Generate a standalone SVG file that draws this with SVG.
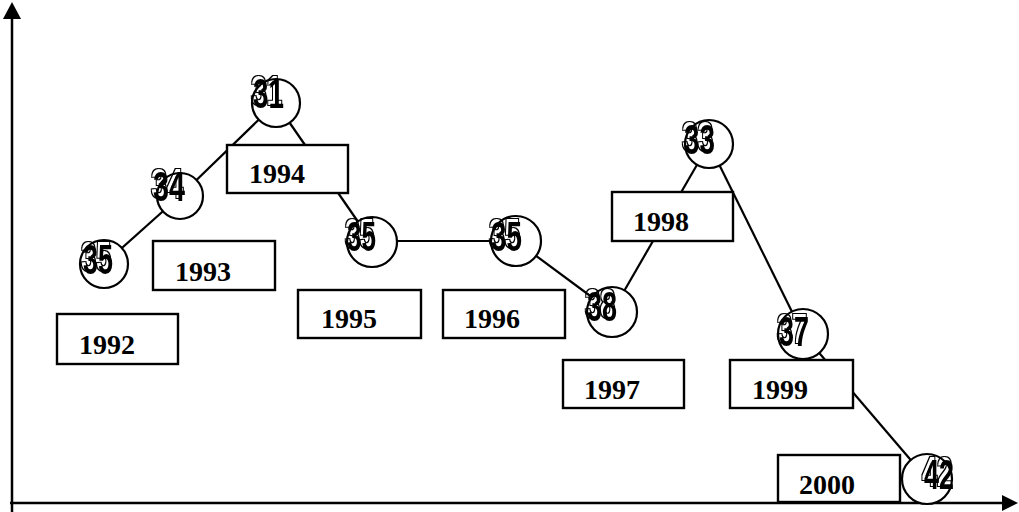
<svg xmlns="http://www.w3.org/2000/svg" width="1019" height="512" viewBox="0 0 1019 512">
  <style>
    .axis { stroke: #000; stroke-width: 2.5; fill: none; }
    .link { stroke: #000; stroke-width: 2.2; fill: none; }
    .dot { fill: #fff; stroke: #000; stroke-width: 2.2; }
    .box { fill: #fff; stroke: #000; stroke-width: 2.4; }
    .num { font-family: "Liberation Sans", Arial, sans-serif; font-weight: bold; font-size: 43px; fill: #000; filter: url(#doubled); }
    .year { font-family: "Liberation Serif", "Times New Roman", serif; font-weight: bold; font-size: 28px; fill: #000; }
  </style>
  <defs>
    <!-- overprinted look: a hollow copy of each value, shifted up-left -->
    <filter id="doubled" x="-30%" y="-30%" width="160%" height="160%">
      <feOffset in="SourceAlpha" dx="-2" dy="-3" result="shift"/>
      <feMorphology in="shift" operator="dilate" radius="1" result="fat"/>
      <feComposite in="fat" in2="shift" operator="out" result="ring"/>
      <feMerge>
        <feMergeNode in="SourceGraphic"/>
        <feMergeNode in="ring"/>
      </feMerge>
    </filter>
  </defs>

  <!-- axes -->
  <g id="axes">
    <line class="axis" x1="12" y1="16" x2="12" y2="512"/>
    <polygon points="12,2 3,19 21,19" fill="#000"/>
    <line class="axis" x1="10" y1="503" x2="1003" y2="503"/>
    <polygon points="1018,503 1002,495 1002,511" fill="#000"/>
  </g>

  <!-- connectors between the yearly values -->
  <g id="connectors">
    <line class="link" x1="104" y1="264" x2="180" y2="196"/>
    <line class="link" x1="180" y1="196" x2="276" y2="103"/>
    <line class="link" x1="276" y1="103" x2="372" y2="242"/>
    <line class="link" x1="372" y1="241" x2="516" y2="241"/>
    <line class="link" x1="516" y1="241" x2="612" y2="312"/>
    <line class="link" x1="612" y1="312" x2="709" y2="144"/>
    <line class="link" x1="709" y1="144" x2="803" y2="334"/>
    <line class="link" x1="803" y1="334" x2="927" y2="479"/>
  </g>

  <!-- value nodes -->
  <g id="v1992">
    <circle class="dot" cx="104" cy="264" r="24"/>
    <text class="num" x="83" y="274" textLength="30" lengthAdjust="spacingAndGlyphs">35</text>
  </g>
  <g id="v1993">
    <circle class="dot" cx="180" cy="196" r="23"/>
    <text class="num" x="153" y="201" textLength="32" lengthAdjust="spacingAndGlyphs">34</text>
  </g>
  <g id="v1994">
    <circle class="dot" cx="276" cy="103" r="24"/>
    <text class="num" x="253" y="108" textLength="31" lengthAdjust="spacingAndGlyphs">31</text>
  </g>
  <g id="v1995">
    <circle class="dot" cx="372" cy="242" r="25"/>
    <text class="num" x="347" y="251" textLength="29" lengthAdjust="spacingAndGlyphs">35</text>
  </g>
  <g id="v1996">
    <circle class="dot" cx="516" cy="241" r="25"/>
    <text class="num" x="491" y="251" textLength="31" lengthAdjust="spacingAndGlyphs">35</text>
  </g>
  <g id="v1997">
    <circle class="dot" cx="612" cy="312" r="25"/>
    <text class="num" x="587" y="321" textLength="30" lengthAdjust="spacingAndGlyphs">38</text>
  </g>
  <g id="v1998">
    <circle class="dot" cx="709" cy="144" r="24"/>
    <text class="num" x="684" y="154" textLength="31" lengthAdjust="spacingAndGlyphs">33</text>
  </g>
  <g id="v1999">
    <circle class="dot" cx="803" cy="334" r="25"/>
    <text class="num" x="779" y="346" textLength="30" lengthAdjust="spacingAndGlyphs">37</text>
  </g>
  <g id="v2000">
    <circle class="dot" cx="927" cy="479" r="25"/>
    <text class="num" x="924" y="489" textLength="30" lengthAdjust="spacingAndGlyphs">42</text>
  </g>

  <!-- year labels -->
  <g id="y1992"><rect class="box" x="57" y="314" width="121" height="50"/><text class="year" x="79" y="354">1992</text></g>
  <g id="y1993"><rect class="box" x="153" y="241" width="122" height="49"/><text class="year" x="175" y="281">1993</text></g>
  <g id="y1994"><rect class="box" x="227" y="145" width="121" height="48"/><text class="year" x="249" y="183">1994</text></g>
  <g id="y1995"><rect class="box" x="298" y="290" width="123" height="48"/><text class="year" x="321" y="328">1995</text></g>
  <g id="y1996"><rect class="box" x="443" y="290" width="122" height="48"/><text class="year" x="464" y="328">1996</text></g>
  <g id="y1997"><rect class="box" x="563" y="360" width="121" height="48"/><text class="year" x="584" y="399">1997</text></g>
  <g id="y1998"><rect class="box" x="612" y="192" width="121" height="49"/><text class="year" x="633" y="231">1998</text></g>
  <g id="y1999"><rect class="box" x="730" y="360" width="123" height="48"/><text class="year" x="752" y="399">1999</text></g>
  <g id="y2000"><rect class="box" x="778" y="455" width="122" height="47"/><text class="year" x="799" y="494">2000</text></g>
</svg>
